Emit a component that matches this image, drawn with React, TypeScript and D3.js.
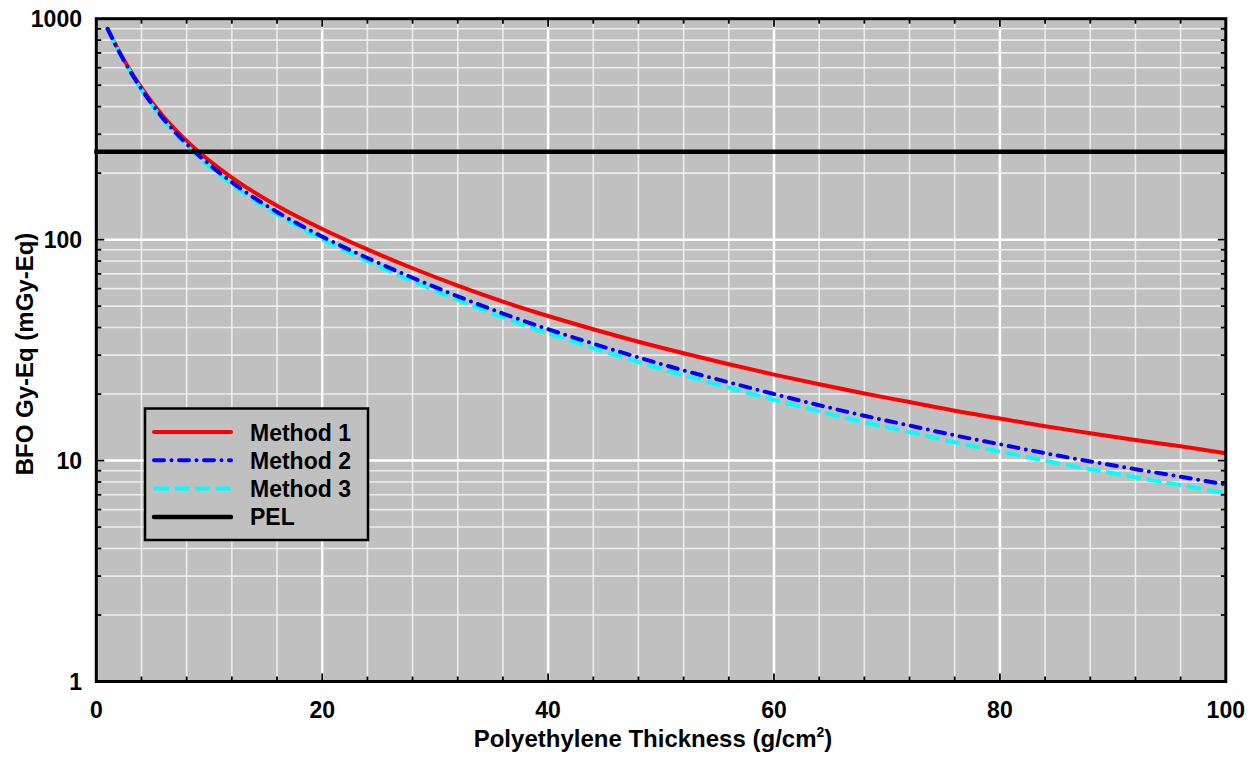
import React from "react";
import * as d3 from "d3";

const thickness = [1, 2, 3, 4, 5, 6, 7, 8, 9, 10, 12, 14, 16, 18, 20, 24, 28, 32, 36, 40, 44, 48, 52, 56, 60, 64, 68, 72, 76, 80, 84, 88, 92, 96, 100];
const method1 = [900, 715, 584, 487, 414, 358, 315, 280, 251.5, 228, 191, 163.6, 142.4, 125.5, 111.7, 90.3, 74.2, 61.9, 52.4, 45.1, 39.3, 34.5, 30.6, 27.3, 24.5, 22.15, 20.1, 18.4, 16.8, 15.5, 14.3, 13.3, 12.4, 11.6, 10.8];
const method2 = [900, 711.3, 577.9, 479.4, 405.5, 349.2, 305.9, 270.8, 242.2, 218.7, 181.7, 154.3, 133.4, 116.7, 103.2, 82.6, 67.2, 55.4, 46.3, 39.3, 33.8, 29.3, 25.6, 22.6, 20.0, 17.8, 15.95, 14.4, 13.0, 11.85, 10.8, 9.91, 9.14, 8.45, 7.78];
const method3 = [900, 709.1, 574.6, 475.4, 401.3, 344.9, 301.6, 266.6, 238.1, 214.6, 178.0, 150.8, 130.1, 113.6, 100.2, 80.1, 64.9, 53.4, 44.5, 37.6, 32.3, 27.9, 24.3, 21.4, 18.85, 16.7, 14.9, 13.45, 12.1, 11.0, 9.99, 9.14, 8.4, 7.74, 7.11];
const pel = 250;
const xTicks = [0, 20, 40, 60, 80, 100];
const yTicks = [1, 10, 100, 1000];
const legendLabels = ["Method 1", "Method 2", "Method 3", "PEL"];

const FONT = "'Liberation Sans', Arial, Helvetica, sans-serif";

export default function App() {
  const W = 1260, H = 759;
  const x0 = 96.3, x1 = 1225.8, y0 = 18.7, y1 = 681.5;
  const x = d3.scaleLinear().domain([0, 100]).range([x0, x1]);
  const y = d3.scaleLog().domain([1, 1000]).range([y1, y0]);

  const xGrid = d3.range(4, 100, 4);
  const xTickAll = d3.range(4, 100, 4);
  const yMinor: number[] = [];
  for (let e = 0; e < 3; e++) for (let k = 1; k <= 9; k++) { const v = k * Math.pow(10, e); if (v > 1 && v < 1000) yMinor.push(v); }

  const line = d3.line<[number, number]>().x(d => x(d[0])).y(d => y(d[1])).curve(d3.curveMonotoneX);
  const mk = (vals: number[]) => line(thickness.map((t, i) => [t, vals[i]] as [number, number])) || "";

  const series = [
    { vals: method1, color: "#ff0000", dash: undefined as string | undefined, cap: "round" },
    { vals: method3, color: "#00ffff", dash: "15 5.5", cap: "butt" },
    { vals: method2, color: "#0000ff", dash: "10 7.5 0 7.5", cap: "round" },
  ];

  const legendStyles = [
    { color: "#ff0000", dash: undefined as string | undefined, cap: "round", w: 4 },
    { color: "#0000ff", dash: "10 7.5 0 7.5", cap: "round", w: 4 },
    { color: "#00ffff", dash: "15 5.5", cap: "butt", w: 4 },
    { color: "#000000", dash: undefined, cap: "round", w: 4.5 },
  ];

  const isMajor = (v: number) => Math.abs(Math.log10(v) - Math.round(Math.log10(v))) < 1e-9;

  return (
    <svg width={W} height={H} style={{ position: "absolute", left: 0, top: 0, background: "#fff" }} fontFamily={FONT} fontWeight="bold">
      <defs>
        <clipPath id="plotclip"><rect x={x0} y={y0} width={x1 - x0} height={y1 - y0} /></clipPath>
      </defs>
      <rect x={x0} y={y0} width={x1 - x0} height={y1 - y0} fill="#c0c0c0" />
      {xGrid.map(t => (
        <line key={"gx" + t} x1={x(t)} x2={x(t)} y1={y0} y2={y1}
          stroke={t % 20 === 0 ? "#ffffff" : "#ececec"} strokeWidth={t % 20 === 0 ? 2.5 : 1.6} />
      ))}
      {yMinor.map(v => (
        <line key={"gy" + v} x1={x0} x2={x1} y1={y(v)} y2={y(v)}
          stroke={isMajor(v) ? "#ffffff" : "#ececec"} strokeWidth={isMajor(v) ? 2.5 : 1.6} />
      ))}
      <g clipPath="url(#plotclip)">
        {series.map((s, i) => (
          <path key={i} d={mk(s.vals)} fill="none" stroke={s.color} strokeWidth={4}
            strokeDasharray={s.dash} strokeLinecap={s.cap as any} strokeLinejoin="round" />
        ))}
      </g>
      <line x1={x(0) - 2} x2={x(100)} y1={y(pel)} y2={y(pel)} stroke="#000" strokeWidth={4.5} />
      {xTickAll.map(t => {
        const L = t % 20 === 0 ? 8 : 5;
        return (
          <g key={"tx" + t}>
            <line x1={x(t)} x2={x(t)} y1={y1} y2={y1 - L} stroke="#000" strokeWidth={1.8} />
            <line x1={x(t)} x2={x(t)} y1={y0} y2={y0 + L} stroke="#000" strokeWidth={1.8} />
          </g>
        );
      })}
      {yMinor.map(v => {
        const L = isMajor(v) ? 8 : 5;
        return (
          <g key={"ty" + v}>
            <line x1={x0} x2={x0 + L} y1={y(v)} y2={y(v)} stroke="#000" strokeWidth={1.8} />
            <line x1={x1} x2={x1 - L} y1={y(v)} y2={y(v)} stroke="#000" strokeWidth={1.8} />
          </g>
        );
      })}
      <rect x={x0} y={y0} width={x1 - x0} height={y1 - y0} fill="none" stroke="#000" strokeWidth={3} />
      {xTicks.map(t => (
        <text key={"lx" + t} x={x(t)} y={718} textAnchor="middle" fontSize={23} fill="#000">{t}</text>
      ))}
      {yTicks.map(v => (
        <text key={"ly" + v} x={82} y={y(v) + 8.5} textAnchor="end" fontSize={23} fill="#000">{v}</text>
      ))}
      <text x={653} y={747} textAnchor="middle" fontSize={24} fill="#000">
        Polyethylene Thickness (g/cm<tspan fontSize={14} dy={-10}>2</tspan><tspan dy={10}>)</tspan>
      </text>
      <text transform={`translate(33,354) rotate(-90)`} textAnchor="middle" fontSize={24} fill="#000">BFO Gy-Eq (mGy-Eq)</text>
      <rect x={145} y={408.5} width={223} height={131.5} fill="#c0c0c0" stroke="#000" strokeWidth={2.5} />
      {legendLabels.map((lab, i) => {
        const ly = 432 + i * 28.3;
        const st = legendStyles[i];
        return (
          <g key={lab}>
            <line x1={154} x2={231} y1={ly} y2={ly} stroke={st.color} strokeWidth={st.w}
              strokeDasharray={st.dash} strokeLinecap={st.cap as any} />
            <text x={250} y={ly + 8.5} fontSize={23} fill="#000">{lab}</text>
          </g>
        );
      })}
    </svg>
  );
}
